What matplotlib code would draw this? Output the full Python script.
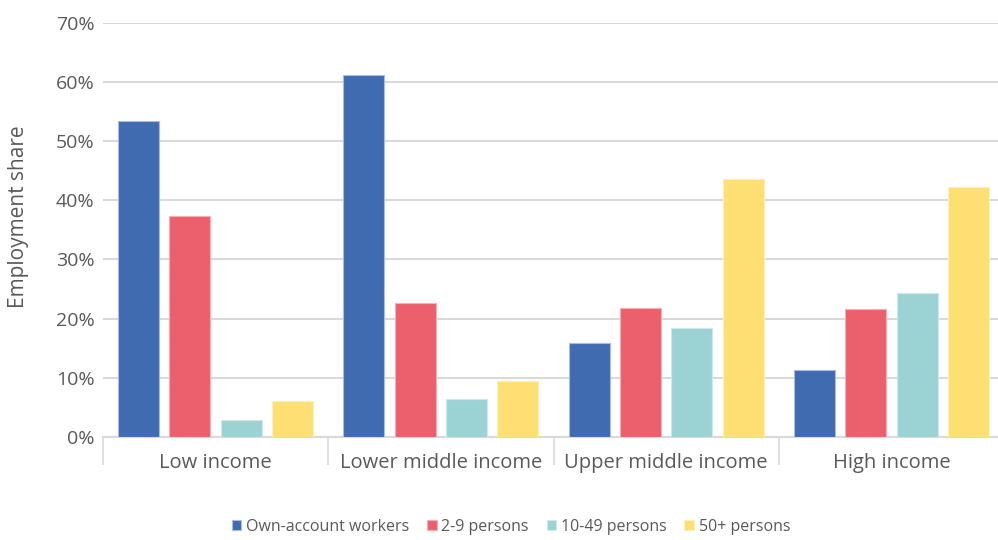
import numpy as np
import matplotlib
matplotlib.use("Agg")
import matplotlib.pyplot as plt

plt.rcParams['font.family'] = ['Open Sans', 'DejaVu Sans']

categories = ["Low income", "Lower middle income", "Upper middle income", "High income"]
series_names = ["Own-account workers", "2-9 persons", "10-49 persons", "50+ persons"]
own_account = [53.4, 61.1, 15.8, 11.3]
persons_2_9 = [37.3, 22.6, 21.8, 21.7]
persons_10_49 = [2.9, 6.4, 18.5, 24.4]
persons_50_plus = [6.0, 9.5, 43.6, 42.3]
y_ticks = [0, 10, 20, 30, 40, 50, 60, 70]

colors = ["#416BB1", "#EC5F6D", "#9BD3D4", "#FEDF73"]
edge_colors = ["#A9BCDD", "#F6AFB6", "#CDE9EA", "#FFEFB9"]
values = [own_account, persons_2_9, persons_10_49, persons_50_plus]

fig = plt.figure(figsize=(9.98, 5.40), dpi=100)
ax = fig.add_axes([103 / 998, 103 / 540, 901 / 998, (437 - 22.7) / 540])

x = np.arange(len(categories))
pitch = 0.228
width = 0.182
for i, (name, vals) in enumerate(zip(series_names, values)):
    ax.bar(x + (i - 1.5) * pitch, vals, width=width, color=colors[i],
           edgecolor=edge_colors[i], linewidth=0.8, label=name, zorder=3)

ax.set_xlim(-0.5, 3.5)
ax.set_ylim(0, 70)
ax.set_yticks(y_ticks)
ax.set_yticklabels([f"{v}%" for v in y_ticks])
ax.yaxis.grid(True, color="#D9D9D9", linewidth=1.5, zorder=0)
ax.set_axisbelow(True)

for side in ["left", "right", "top"]:
    ax.spines[side].set_visible(False)
ax.spines["bottom"].set_color("#D9D9D9")
ax.spines["bottom"].set_linewidth(1.5)

ax.tick_params(axis="y", length=0, pad=6, labelsize=14, labelcolor="#595959")
ax.set_xticks(x)
ax.set_xticklabels(categories)
ax.tick_params(axis="x", which="major", length=0, pad=11.5, labelsize=14.5, labelcolor="#595959")
ax.set_xticks(np.arange(-0.5, 4.0, 1.0), minor=True)
ax.tick_params(axis="x", which="minor", length=20, width=1.2, color="#D9D9D9")

ax.set_ylabel("Employment share", fontsize=15, color="#595959")
ax.yaxis.set_label_coords(-0.082, 0.532)

handles, labels = ax.get_legend_handles_labels()
leg = fig.legend(handles, labels, loc="center", bbox_to_anchor=(511 / 998, 1 - 527 / 540),
                 ncol=4, frameon=False, fontsize=11.5, handlelength=0.6, handleheight=0.6,
                 handletextpad=0.3, columnspacing=1.1, labelcolor="#595959")

fig.savefig("out.png", dpi=100)
